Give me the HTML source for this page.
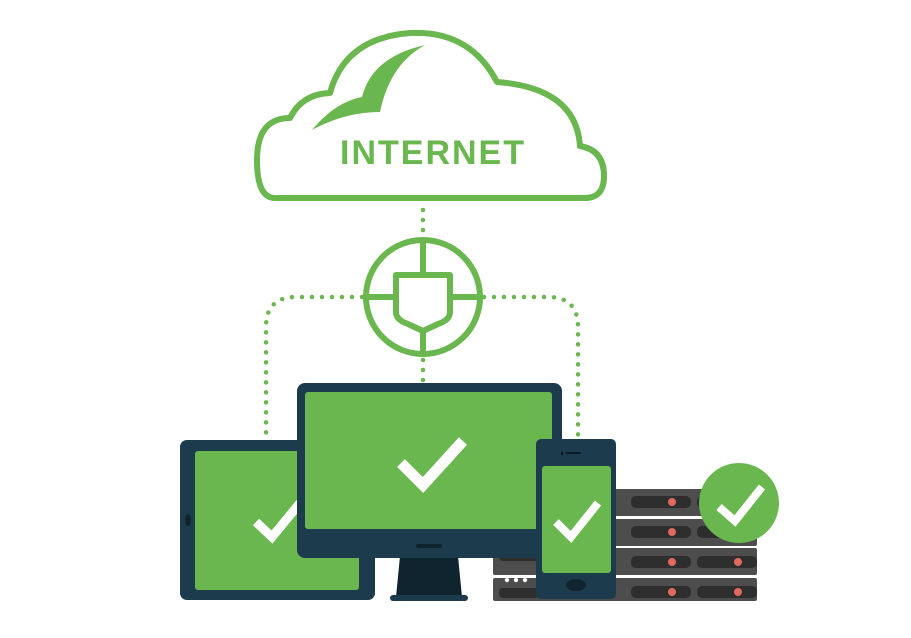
<!DOCTYPE html>
<html><head><meta charset="utf-8"><style>html,body{margin:0;padding:0;background:#fff;width:911px;height:638px;overflow:hidden}</style></head>
<body>
<svg width="911" height="638" viewBox="0 0 911 638" xmlns="http://www.w3.org/2000/svg">
<!-- cloud -->
<path d="M275 198 L585 198 Q604 198 604 176 Q604 150 580 146 Q576 88 497 82 Q470 30 410 33 Q345 38 330 93 Q302 94 290 118 Q257 118 257 160 Q257 198 275 198 Z" fill="none" stroke="#6ab74f" stroke-width="6" stroke-linejoin="round"/>
<path d="M312 130 Q335 102 362 97 Q372 57 425 45 Q390 64 380 112 Q345 112 312 130 Z" fill="#6ab74f"/>
<text x="433" y="164" text-anchor="middle" font-family="Liberation Sans, sans-serif" font-weight="bold" font-size="34" fill="#6ab74f" letter-spacing="2">INTERNET</text>
<!-- dotted connectors -->
<g fill="none" stroke="#6ab74f" stroke-width="4.5" stroke-linecap="round" stroke-dasharray="0 10">
<path d="M423 210 L423 236"/>
<path d="M423 360 L423 384"/>
<path d="M362 297 L296 297 Q266 297 266 327 L266 440"/>
<path d="M484 297 L548 297 Q578 297 578 327 L578 440"/>
</g>
<!-- shield circle -->
<circle cx="423" cy="297" r="57" fill="#fff" stroke="#6ab74f" stroke-width="6"/>
<g stroke="#6ab74f" stroke-width="6" fill="none">
<line x1="423" y1="240" x2="423" y2="275"/>
<line x1="366" y1="297" x2="396" y2="297"/>
<line x1="450" y1="297" x2="480" y2="297"/>
<line x1="423" y1="331" x2="423" y2="354"/>
<path d="M396 275 L450 275 L450 312 Q450 320 438 324 L423 331 L408 324 Q396 320 396 312 Z" stroke-linejoin="round"/>
</g>
<!-- server -->
<g fill="#4d4d4d">
<rect x="560" y="489" width="197" height="27" rx="2"/>
<rect x="560" y="519" width="197" height="27" rx="2"/>
<rect x="493" y="548" width="264" height="27" rx="2"/>
<rect x="493" y="578" width="264" height="23" rx="2"/>
</g>
<g fill="#2e2e2e">
<rect x="631" y="496" width="60" height="12" rx="5"/><rect x="697" y="496" width="60" height="12" rx="5"/>
<rect x="631" y="526" width="60" height="12" rx="5"/><rect x="697" y="526" width="60" height="12" rx="5"/>
<rect x="631" y="556" width="60" height="12" rx="5"/><rect x="697" y="556" width="60" height="12" rx="5"/>
<rect x="631" y="586" width="60" height="12" rx="5"/><rect x="697" y="586" width="60" height="12" rx="5"/>
<rect x="499" y="588" width="40" height="10" rx="4"/><rect x="499" y="551" width="40" height="10" rx="4"/>
</g>
<g fill="#e06a5c">
<circle cx="672" cy="502" r="4"/><circle cx="672" cy="532" r="4"/><circle cx="672" cy="562" r="4"/><circle cx="672" cy="592" r="4"/>
<circle cx="738" cy="562" r="4"/><circle cx="738" cy="592" r="4"/>
</g>
<g fill="#fff"><circle cx="507" cy="580" r="2.2"/><circle cx="516" cy="580" r="2.2"/><circle cx="525" cy="580" r="2.2"/></g>
<!-- check circle -->
<circle cx="739" cy="503" r="40" fill="#6ab74f"/>
<polyline points="719,507 735,521 762,487" fill="none" stroke="#fff" stroke-width="8"/>
<!-- tablet -->
<rect x="180" y="440" width="195" height="160" rx="7" fill="#1c3c4e"/>
<rect x="195" y="451" width="164" height="139" rx="3" fill="#6ab74f"/>
<ellipse cx="188" cy="520" rx="3" ry="6" fill="#10242f"/>
<polyline points="256,522 272,537 300,503" fill="none" stroke="#fff" stroke-width="9"/>
<!-- monitor -->
<path d="M400 556 L458 556 L462 597 L396 597 Z" fill="#10242f"/>
<rect x="390" y="595" width="78" height="6" rx="3" fill="#1c3c4e"/>
<rect x="297" y="383" width="265" height="175" rx="8" fill="#1c3c4e"/>
<rect x="305" y="392" width="247" height="137" rx="3" fill="#6ab74f"/>
<rect x="416" y="544" width="26" height="4" rx="2" fill="#10242f"/>
<polyline points="401,463 423,485 463,441" fill="none" stroke="#fff" stroke-width="11"/>
<!-- phone -->
<rect x="536" y="439" width="80" height="160" rx="5" fill="#1c3c4e"/>
<rect x="542" y="466" width="69" height="107" rx="3" fill="#6ab74f"/>
<rect x="561" y="452" width="2" height="3" fill="#0a1a22"/><rect x="566" y="452" width="15" height="2" fill="#0a1a22"/>
<ellipse cx="576" cy="585" rx="10" ry="6" fill="#10242f"/>
<polyline points="556,522 571,537 598,503" fill="none" stroke="#fff" stroke-width="8"/>
</svg>
</body></html>
